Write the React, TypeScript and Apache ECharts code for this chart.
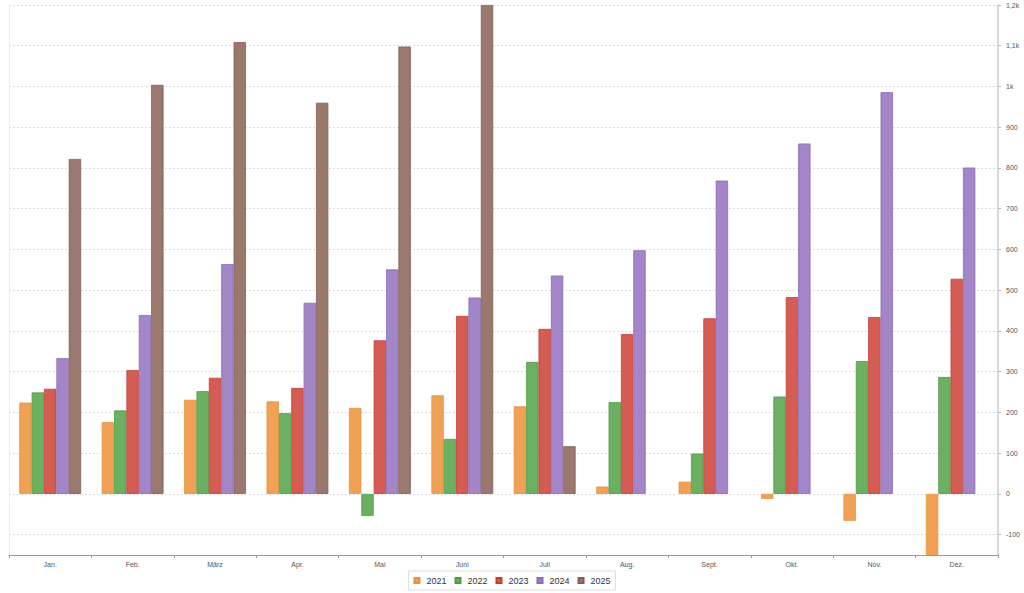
import React, { useEffect, useRef } from "react";
import * as echarts from "echarts";

const months = ["Jan.", "Feb.", "März", "Apr.", "Mai", "Juni", "Juli", "Aug.", "Sept.", "Okt.", "Nov.", "Dez."];
const seriesNames = ["2021", "2022", "2023", "2024", "2025"];
const v2021 = [224, 176, 231, 227, 211, 242, 215, 18, 30, -12, -66, -150];
const v2022 = [249, 205, 252, 198, -54, 135, 324, 225, 99, 239, 326, 287];
const v2023 = [258, 304, 285, 260, 377, 437, 405, 392, 431, 483, 434, 528];
const v2024 = [333, 439, 564, 469, 551, 482, 536, 598, 769, 860, 986, 801];
const v2025 = [822, 1004, 1109, 960, 1098, 1200, 117, null, null, null, null, null];
const fills = ["#f1a155", "#6cb061", "#d45c52", "#a386c8", "#9b786d"];
const borders = ["#e89038", "#4f9a45", "#c23e35", "#8b6bb3", "#835e52"];

const allValues = [v2021, v2022, v2023, v2024, v2025];

function fmt(v: number): string {
  if (Math.abs(v) >= 1000) return String(v / 1000).replace(".", ",") + "k";
  return String(v);
}

export default function App() {
  const ref = useRef<HTMLDivElement>(null);
  useEffect(() => {
    if (!ref.current) return;
    const chart = echarts.init(ref.current, undefined, { renderer: "svg" });
    const font = "'Liberation Sans', Arial, sans-serif";
    chart.setOption({
      animation: false,
      textStyle: { fontFamily: font },
      grid: { left: 9, right: 26, top: 5, bottom: 38, containLabel: false },
      legend: {
        top: 571,
        left: "center",
        itemWidth: 5,
        itemHeight: 5,
        itemGap: 8,
        borderColor: "#dddddd",
        borderWidth: 1,
        padding: [5, 5],
        textStyle: { fontSize: 9, color: "#333", fontFamily: font, padding: [0, 0, 0, 2] },
        data: seriesNames.map((n) => ({ name: n, icon: "rect" })),
      },
      xAxis: {
        type: "category",
        data: months,
        axisLine: { onZero: false, lineStyle: { color: "#999" } },
        axisTick: { show: true, alignWithLabel: false, length: 3, lineStyle: { color: "#999" } },
        axisLabel: { fontSize: 7, color: "#555", margin: 6 },
        splitLine: { show: false },
      },
      yAxis: [
        {
          type: "value",
          position: "right",
          min: -150,
          max: 1200,
          splitNumber: 13,
          minInterval: 100,
          maxInterval: 100,
          axisLine: { show: true, lineStyle: { color: "#cccccc", width: 1.5 } },
          axisTick: { show: true, length: 3, lineStyle: { color: "#bbb" } },
          axisLabel: { fontSize: 7, color: "#555", margin: 8, showMinLabel: false, formatter: fmt },
          splitLine: { show: true, lineStyle: { color: "#dddddd", type: [2, 2] } },
        },
        {
          type: "value",
          position: "left",
          min: -150,
          max: 1200,
          axisLine: { show: true, lineStyle: { color: "#eeeeee" } },
          axisTick: { show: false },
          axisLabel: { show: false },
          splitLine: { show: false },
        },
      ],
      series: seriesNames.map((n, i) => ({
        name: n,
        type: "bar",
        yAxisIndex: 0,
        data: allValues[i],
        barGap: "0%",
        barCategoryGap: "25%",
        itemStyle: { color: fills[i], borderColor: borders[i], borderWidth: 0.8 },
      })),
      color: fills,
    });
    return () => chart.dispose();
  }, []);
  return <div ref={ref} style={{ width: 1024, height: 593, position: "absolute", left: 0, top: 0 }} />;
}
